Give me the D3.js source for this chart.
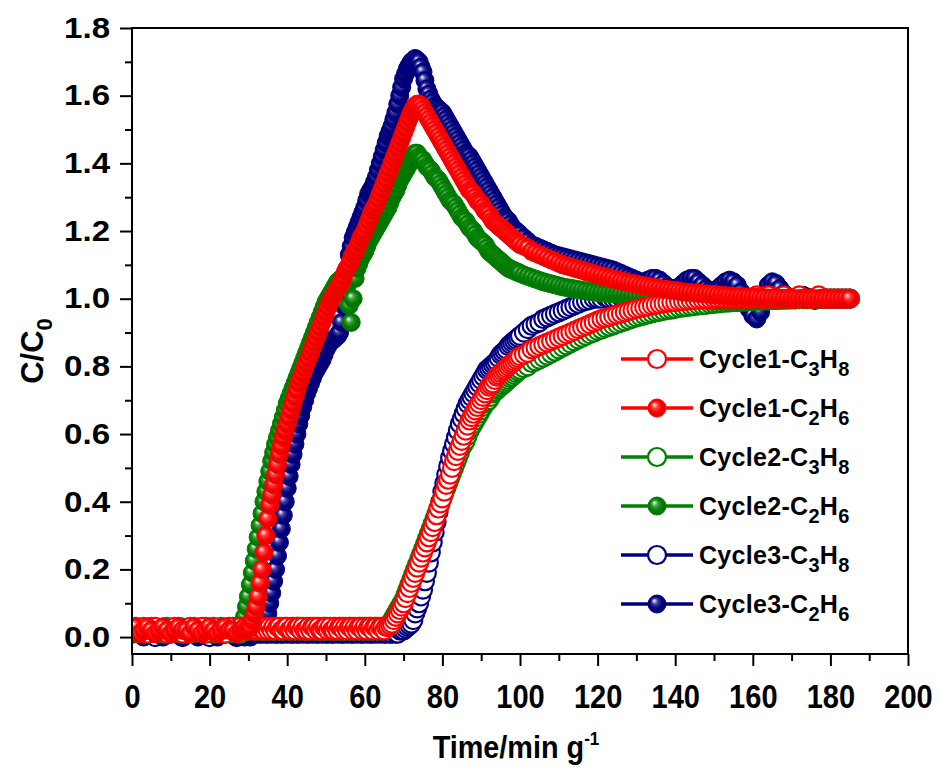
<!DOCTYPE html>
<html><head><meta charset="utf-8">
<script src="https://cdn.jsdelivr.net/npm/d3@7"></script>
<style>
body{margin:0;background:#fff}
svg{display:block}
text{font-family:"Liberation Sans",Arial,sans-serif;font-weight:bold;fill:#000}
</style>
</head><body>
<svg id="chart" width="941" height="771"></svg>
<script>
// ---------- data (time in min g^-1, C/C0); denser sampling during breakthrough ----------
const TIME=[0,1,2,3,4,5,6,7,8,9,10,11,12,13,14,15,16,17,18,19,20,21,22,23,24,25,26,27,
28,28.5,29,29.5,30,30.5,31,31.5,32,32.5,
33,33.5,34,34.5,35,35.5,36,36.5,37,37.5,
38,38.5,39,39.5,40,40.5,41,41.5,42,42.5,
43,43.5,44,44.5,45,45.5,46,46.5,47,47.5,
48,48.5,49,49.5,50,50.5,51,51.5,52,52.5,
53,53.5,54,54.5,55,55.5,56,56.5,57,57.5,
58,58.5,59,59.5,60,60.5,61,61.5,62,62.5,
63,63.5,64,64.5,65,65.5,66,66.5,67,67.5,
68,68.5,69,69.5,70,70.5,71,71.5,72,72.5,
73,73.5,74,74.5,75,75.5,76,76.5,77,77.5,
78,78.5,79,79.5,80,80.5,81,81.5,82,82.5,
83,83.5,84,84.5,85,85.5,86,86.5,87,87.5,
88,88.5,89,89.5,90,90.5,91,91.5,92,92.5,
93,93.5,94,94.5,95,95.5,96,96.5,97,97.5,
98,98.5,99,99.5,
100,101,102,103,104,105,106,107,108,109,110,111,112,113,114,115,116,117,118,119,
120,121,122,123,124,125,126,127,128,129,130,131,132,133,134,135,136,137,138,139,
140,141,142,143,144,145,146,147,148,149,150,151,152,153,154,155,156,157,158,159,
160,161,162,163,164,165,166,167,168,169,170,171,172,173,174,175,176,177,178,179,
180,181,182,183,184,185];

const CYCLE1_C3H8=[0.03,0.02,0.02,0.03,0.01,0.02,0.03,0.02,0.02,0.01,0.02,0.03,0.02,0.01,0.02,0.03,0.02,0.02,0.03,0.01,0.02,0.03,0.02,0.02,0.01,0.03,0.02,0.02,
0.03,0.02,0.02,0.03,0.02,0.03,0.02,0.02,0.03,0.02,
0.03,0.02,0.02,0.03,0.02,0.03,0.02,0.03,0.02,0.03,
0.03,0.02,0.02,0.03,0.03,0.02,0.02,0.03,0.02,0.03,
0.03,0.02,0.03,0.02,0.02,0.03,0.02,0.03,0.03,0.02,
0.03,0.02,0.02,0.03,0.03,0.02,0.03,0.02,0.02,0.03,
0.02,0.03,0.03,0.02,0.03,0.02,0.03,0.03,0.02,0.03,
0.02,0.03,0.03,0.02,0.03,0.02,0.03,0.03,0.02,0.03,
0.03,0.02,0.03,0.03,0.02,0.03,0.03,0.035,0.04,0.05,
0.06,0.07,0.08,0.09,0.10,0.115,0.13,0.145,0.16,0.175,
0.19,0.205,0.22,0.235,0.25,0.265,0.28,0.295,0.31,0.325,
0.34,0.36,0.38,0.395,0.41,0.43,0.45,0.465,0.48,0.50,
0.52,0.535,0.55,0.565,0.58,0.595,0.61,0.625,0.64,0.65,
0.66,0.67,0.68,0.69,0.70,0.71,0.72,0.73,0.74,0.745,
0.75,0.76,0.77,0.775,0.78,0.785,0.79,0.795,0.80,0.805,
0.81,0.815,0.82,0.825,
0.83,0.835,0.84,0.85,0.855,0.86,0.865,0.87,0.875,0.88,
0.885,0.89,0.895,0.90,0.905,0.91,0.915,0.92,0.925,0.93,
0.935,0.94,0.943,0.946,0.95,0.953,0.956,0.96,0.963,0.966,
0.97,0.972,0.975,0.977,0.98,0.982,0.984,0.986,0.988,0.99,
0.99,0.992,0.993,0.994,0.995,0.996,0.997,0.998,0.998,0.999,
1,1,1,1,1,1,1,1,1,1,
1,1.01,1,1,1.01,1,1,1,1.01,1,
1,1,1.01,1,1,1,1,1.01,1,1,
1,1,1,1,1,1];

const CYCLE1_C2H6=[0.02,0.03,0.01,0.02,0.03,0.02,0.01,0.02,0.03,0.02,0.01,0.02,0.03,0.02,0.02,0.01,0.03,0.02,0.01,0.02,0.03,0.02,0.01,0.02,0.03,0.02,0.02,0.01,
0.02,0.02,0.03,0.02,0.03,0.03,0.05,0.07,0.09,0.12,
0.16,0.20,0.25,0.30,0.35,0.39,0.42,0.45,0.48,0.51,
0.54,0.565,0.59,0.61,0.63,0.65,0.67,0.69,0.71,0.73,
0.75,0.765,0.78,0.795,0.81,0.825,0.84,0.855,0.87,0.885,
0.90,0.915,0.93,0.945,0.96,0.975,0.99,1.00,1.01,1.02,
1.03,1.04,1.05,1.065,1.08,1.09,1.10,1.115,1.13,1.14,
1.15,1.165,1.18,1.19,1.20,1.215,1.23,1.245,1.26,1.27,
1.28,1.295,1.31,1.325,1.34,1.355,1.37,1.385,1.40,1.415,
1.43,1.445,1.46,1.475,1.49,1.505,1.52,1.535,1.55,1.56,
1.57,1.575,1.575,1.57,1.56,1.55,1.54,1.53,1.52,1.51,
1.50,1.49,1.48,1.47,1.46,1.45,1.44,1.43,1.42,1.41,
1.40,1.39,1.38,1.37,1.36,1.35,1.34,1.33,1.32,1.315,
1.31,1.30,1.29,1.285,1.28,1.27,1.26,1.255,1.25,1.24,
1.23,1.225,1.22,1.215,1.21,1.205,1.20,1.195,1.19,1.185,
1.18,1.175,1.17,1.165,
1.16,1.155,1.15,1.14,1.135,1.13,1.125,1.12,1.115,1.11,
1.105,1.10,1.097,1.094,1.09,1.087,1.084,1.08,1.077,1.074,
1.07,1.067,1.064,1.061,1.058,1.055,1.052,1.05,1.047,1.045,
1.043,1.04,1.038,1.036,1.034,1.032,1.03,1.028,1.027,1.025,
1.024,1.022,1.02,1.019,1.018,1.017,1.016,1.015,1.014,1.013,
1.012,1.011,1.01,1.009,1.008,1.007,1.006,1.006,1.005,1.005,
1.004,1.004,1.003,1.003,1.002,1.002,1.002,1.001,1.001,1.001,
1,1,1,1,1,1,1,1,1,1,
1,1,1,1,1,1];

const CYCLE2_C3H8=[0.02,0.03,0.02,0.01,0.02,0.03,0.02,0.02,0.01,0.03,0.02,0.02,0.03,0.02,0.01,0.02,0.03,0.02,0.02,0.03,0.02,0.01,0.02,0.03,0.02,0.02,0.03,0.02,
0.01,0.02,0.03,0.02,0.02,0.03,0.02,0.03,0.02,0.02,
0.03,0.02,0.02,0.03,0.02,0.02,0.03,0.02,0.03,0.02,
0.02,0.03,0.02,0.03,0.02,0.02,0.03,0.02,0.02,0.03,
0.02,0.03,0.02,0.02,0.03,0.02,0.03,0.02,0.02,0.03,
0.02,0.03,0.02,0.03,0.02,0.02,0.03,0.02,0.03,0.02,
0.02,0.03,0.02,0.03,0.02,0.02,0.03,0.02,0.03,0.02,
0.02,0.03,0.02,0.03,0.02,0.03,0.02,0.03,0.02,0.03,
0.02,0.03,0.02,0.03,0.03,0.03,0.03,0.04,0.05,0.06,
0.07,0.08,0.09,0.10,0.11,0.125,0.14,0.155,0.17,0.185,
0.20,0.215,0.23,0.245,0.26,0.275,0.29,0.305,0.32,0.335,
0.35,0.365,0.38,0.395,0.41,0.425,0.44,0.455,0.47,0.485,
0.50,0.515,0.53,0.545,0.56,0.57,0.58,0.595,0.61,0.62,
0.63,0.64,0.65,0.66,0.67,0.68,0.69,0.695,0.70,0.71,
0.72,0.725,0.73,0.735,0.74,0.745,0.75,0.755,0.76,0.765,
0.77,0.775,0.78,0.785,
0.79,0.795,0.80,0.81,0.815,0.82,0.826,0.832,0.838,0.844,
0.85,0.856,0.862,0.868,0.874,0.88,0.885,0.89,0.895,0.90,
0.905,0.909,0.913,0.917,0.921,0.925,0.929,0.933,0.937,0.941,
0.945,0.948,0.951,0.954,0.957,0.96,0.962,0.964,0.966,0.968,
0.97,0.972,0.974,0.975,0.977,0.978,0.98,0.981,0.982,0.984,
0.985,0.986,0.987,0.988,0.989,0.99,0.99,0.991,0.992,0.993,
0.993,0.994,0.994,0.995,0.995,0.996,0.996,0.997,0.997,0.998,
0.998,0.998,0.999,0.999,0.999,1,1,1,1,1,
1,1,1,1,1,1];

const CYCLE2_C2H6=[0.02,0.01,0.02,0.03,0.02,0.01,0.02,0.02,0.03,0.01,0.02,0.02,0.01,0.03,0.02,0.02,0.01,0.02,0.03,0.02,0.02,0.01,0.02,0.03,0.02,0.02,0.01,0.02,
0.03,0.04,0.06,0.09,0.12,0.155,0.19,0.225,0.26,0.295,
0.33,0.365,0.40,0.43,0.46,0.49,0.52,0.545,0.57,0.59,
0.61,0.63,0.65,0.67,0.69,0.705,0.72,0.735,0.75,0.765,
0.78,0.795,0.81,0.825,0.84,0.855,0.87,0.885,0.90,0.915,
0.93,0.945,0.96,0.975,0.99,1.00,1.01,1.02,1.03,1.04,
1.05,1.055,1.06,1.06,1.06,1.04,0.98,0.93,1.00,1.06,
1.09,1.105,1.12,1.13,1.14,1.155,1.17,1.18,1.19,1.20,
1.21,1.22,1.23,1.24,1.25,1.26,1.27,1.285,1.30,1.31,
1.32,1.335,1.35,1.36,1.37,1.38,1.39,1.40,1.41,1.42,
1.43,1.43,1.42,1.415,1.41,1.40,1.39,1.385,1.38,1.37,
1.36,1.355,1.35,1.34,1.33,1.32,1.31,1.30,1.29,1.285,
1.28,1.27,1.26,1.25,1.24,1.235,1.23,1.22,1.21,1.205,
1.20,1.19,1.18,1.175,1.17,1.165,1.16,1.15,1.14,1.135,
1.13,1.125,1.12,1.115,1.11,1.105,1.10,1.095,1.09,1.088,
1.085,1.083,1.08,1.078,
1.075,1.07,1.066,1.062,1.058,1.054,1.05,1.047,1.044,1.041,
1.038,1.035,1.033,1.031,1.029,1.027,1.025,1.023,1.021,1.02,
1.018,1.017,1.016,1.015,1.014,1.013,1.012,1.011,1.01,1.009,
1.008,1.007,1.006,1.005,1.004,1.003,1.002,1.001,1,1,
1,1,0.998,0.998,0.997,0.997,0.996,0.996,0.996,0.995,
0.995,0.995,0.995,0.995,0.995,0.995,0.995,0.995,0.995,0.995,
0.995,0.995,0.995,0.995,0.995,0.995,0.996,0.996,0.996,0.996,
0.997,0.997,0.997,0.997,0.998,0.998,0.998,0.998,0.999,0.999,
0.999,0.999,1,1,1,1];

const CYCLE3_C3H8=[0.01,0.02,0.01,0.01,0.02,0.01,0.00,0.01,0.02,0.01,0.01,0.02,0.01,0.00,0.01,0.02,0.01,0.01,0.02,0.01,0.00,0.01,0.02,0.01,0.01,0.02,0.01,0.00,
0.01,0.02,0.01,0.01,0.02,0.01,0.01,0.02,0.01,0.02,
0.01,0.01,0.02,0.01,0.01,0.02,0.01,0.02,0.01,0.01,
0.02,0.01,0.01,0.02,0.01,0.02,0.01,0.01,0.02,0.01,
0.01,0.02,0.01,0.02,0.01,0.01,0.02,0.01,0.02,0.01,
0.01,0.02,0.01,0.02,0.01,0.01,0.02,0.01,0.01,0.02,
0.01,0.02,0.01,0.01,0.02,0.01,0.02,0.01,0.01,0.02,
0.01,0.02,0.01,0.01,0.02,0.01,0.02,0.01,0.01,0.02,
0.01,0.02,0.01,0.02,0.01,0.01,0.02,0.01,0.01,0.02,
0.01,0.01,0.02,0.02,0.02,0.025,0.03,0.035,0.04,0.05,
0.07,0.085,0.10,0.12,0.14,0.165,0.19,0.22,0.25,0.28,
0.31,0.34,0.37,0.40,0.43,0.455,0.48,0.505,0.53,0.55,
0.57,0.59,0.61,0.63,0.645,0.66,0.675,0.69,0.70,0.71,
0.72,0.73,0.74,0.75,0.76,0.77,0.78,0.79,0.795,0.80,
0.805,0.81,0.815,0.825,0.835,0.84,0.845,0.85,0.86,0.865,
0.87,0.875,0.88,0.885,
0.89,0.90,0.91,0.92,0.925,0.93,0.94,0.945,0.95,0.955,
0.96,0.965,0.97,0.975,0.98,0.985,0.99,0.993,0.996,1.0,
1.0,1.0,1.005,1.0,1.0,1.0,1.005,1.0,1.0,1.0,
1.0,1.005,1.0,1.0,1.0,1.0,1.005,1.0,1.0,1.0,
1.0,1.0,1.0,1.005,1.0,1.0,1.0,1.0,1.0,1.0,
1.0,1.0,1.0,1.0,1.0,1.0,1.0,1.0,1.0,1.0,
1.0,1.0,1.0,1.0,1.0,1.0,1.0,1.0,1.0,1.0,
1.0,1.0,1.0,1.0,1.0,1.0,1.0,1.0,1.0,1.0,
1,1,1,1,1,1];

const CYCLE3_C2H6=[0.01,0.02,0.01,0.00,0.01,0.02,0.01,0.01,0.00,0.01,0.02,0.01,0.01,0.00,0.01,0.02,0.01,0.00,0.01,0.01,0.02,0.01,0.00,0.01,0.01,0.02,0.01,0.00,
0.01,0.01,0.00,0.01,0.01,0.00,0.01,0.01,0.01,0.02,
0.02,0.025,0.03,0.05,0.07,0.10,0.13,0.165,0.20,0.24,
0.28,0.32,0.36,0.40,0.44,0.475,0.51,0.54,0.57,0.60,
0.63,0.655,0.68,0.70,0.72,0.735,0.75,0.765,0.78,0.79,
0.80,0.81,0.82,0.835,0.85,0.86,0.87,0.875,0.88,0.885,
0.89,0.90,0.93,0.98,1.05,1.09,1.13,1.155,1.18,1.195,
1.21,1.225,1.24,1.255,1.27,1.29,1.31,1.32,1.33,1.345,
1.36,1.38,1.40,1.42,1.44,1.46,1.48,1.495,1.51,1.53,
1.55,1.575,1.60,1.625,1.65,1.665,1.68,1.69,1.70,1.705,
1.71,1.705,1.70,1.685,1.67,1.645,1.62,1.605,1.59,1.58,
1.57,1.565,1.56,1.555,1.55,1.54,1.53,1.52,1.51,1.50,
1.49,1.48,1.47,1.46,1.45,1.44,1.43,1.425,1.42,1.41,
1.40,1.39,1.38,1.37,1.36,1.35,1.34,1.33,1.32,1.31,
1.30,1.29,1.28,1.27,1.26,1.25,1.24,1.235,1.23,1.22,
1.21,1.205,1.20,1.195,
1.19,1.18,1.17,1.16,1.155,1.15,1.145,1.14,1.135,1.13,
1.127,1.124,1.121,1.118,1.115,1.112,1.109,1.106,1.103,1.10,
1.097,1.094,1.091,1.088,1.085,1.08,1.075,1.07,1.065,1.06,
1.055,1.05,1.05,1.055,1.06,1.06,1.055,1.045,1.035,1.03,
1.03,1.035,1.045,1.055,1.06,1.06,1.05,1.04,1.03,1.025,
1.025,1.03,1.04,1.05,1.055,1.05,1.04,1.02,1.00,0.97,
0.95,0.94,0.96,1.00,1.04,1.05,1.045,1.03,1.015,1.005,
1.0,1.0,1.005,1.01,1.005,1.0,0.995,1.0,1.0,1.0,
1,1,1,1,1,1];

const X_TICKS=[0,20,40,60,80,100,120,140,160,180,200];
const X_MINOR=[10,30,50,70,90,110,130,150,170,190];
const Y_TICKS=[0.0,0.2,0.4,0.6,0.8,1.0,1.2,1.4,1.6,1.8];
const Y_MINOR=[0.1,0.3,0.5,0.7,0.9,1.1,1.3,1.5,1.7];

// legend order
const SERIES=[
  {name:["Cycle1-C","3","H","8"], values:CYCLE1_C3H8, color:"#ff0000", filled:false},
  {name:["Cycle1-C","2","H","6"], values:CYCLE1_C2H6, color:"#ff0000", filled:true},
  {name:["Cycle2-C","3","H","8"], values:CYCLE2_C3H8, color:"#008000", filled:false},
  {name:["Cycle2-C","2","H","6"], values:CYCLE2_C2H6, color:"#008000", filled:true},
  {name:["Cycle3-C","3","H","8"], values:CYCLE3_C3H8, color:"#000080", filled:false},
  {name:["Cycle3-C","2","H","6"], values:CYCLE3_C2H6, color:"#000080", filled:true}
];
// drawing order: red on top
const DRAW_ORDER=[4,5,2,3,0,1];

// ---------- layout ----------
const L=132,R=908,T=28,B=654;
const svg=d3.select("#chart");
const x=d3.scaleLinear().domain([0,200]).range([L,R]);
const y=d3.scaleLinear().domain([-0.05,1.8]).range([B,T]);
const RAD=9;

const defs=svg.append("defs");
defs.append("clipPath").attr("id","plotclip").append("rect")
  .attr("x",L).attr("y",T).attr("width",R-L).attr("height",B-T);
function gradId(c){return "g"+c.replace("#","");}
[...new Set(SERIES.map(s=>s.color))].forEach(c=>{
  const g=defs.append("radialGradient").attr("id",gradId(c))
    .attr("cx","0.5").attr("cy","0.5").attr("r","0.55").attr("fx","0.33").attr("fy","0.3");
  g.append("stop").attr("offset","0").attr("stop-color","#ffffff");
  g.append("stop").attr("offset","0.3").attr("stop-color",d3.interpolateRgb(c,"#ffffff")(0.25));
  g.append("stop").attr("offset","0.6").attr("stop-color",c);
  g.append("stop").attr("offset","1").attr("stop-color",d3.color(c).darker(0.6).formatHex());
});

// ---------- markers ----------
const plot=svg.append("g").attr("clip-path","url(#plotclip)");
DRAW_ORDER.forEach(i=>{
  const s=SERIES[i];
  const pts=TIME.map((t,k)=>[t,s.values[k]]).filter(d=>d[1]!==undefined);
  plot.append("g").selectAll("circle").data(pts).join("circle")
    .attr("cx",d=>x(d[0])).attr("cy",d=>y(d[1])).attr("r",RAD)
    .attr("fill",s.filled?`url(#${gradId(s.color)})`:"#ffffff")
    .attr("stroke",s.color).attr("stroke-width",s.filled?1:2.2);
});

// ---------- axes ----------
const xAxis=svg.append("g").attr("transform",`translate(0,${B})`)
  .call(d3.axisBottom(x).tickValues(X_TICKS).tickSize(12).tickPadding(19).tickFormat(d3.format("d")));
svg.append("g").attr("transform",`translate(0,${B})`)
  .call(d3.axisBottom(x).tickValues(X_MINOR).tickSize(7).tickFormat(""));
const yAxis=svg.append("g").attr("transform",`translate(${L},0)`)
  .call(d3.axisLeft(y).tickValues(Y_TICKS).tickSize(12).tickPadding(10).tickFormat(d3.format(".1f")));
svg.append("g").attr("transform",`translate(${L},0)`)
  .call(d3.axisLeft(y).tickValues(Y_MINOR).tickSize(7).tickFormat(""));
svg.selectAll(".domain").remove();
svg.selectAll(".tick line").attr("stroke","#000").attr("stroke-width",2);
xAxis.selectAll("text").attr("font-size",33).attr("transform","scale(0.88,1)")
  .style("font-family","'Liberation Sans',Arial,sans-serif").style("font-weight","bold");
const YSX=1.14;
yAxis.selectAll("text").attr("font-size",29).attr("x",-22/YSX).attr("transform",`scale(${YSX},1)`)
  .style("font-family","'Liberation Sans',Arial,sans-serif").style("font-weight","bold");
svg.append("rect").attr("x",L).attr("y",T).attr("width",R-L).attr("height",B-T)
  .attr("fill","none").attr("stroke","#000").attr("stroke-width",2);

// ---------- axis titles ----------
const xt=svg.append("text").attr("transform",`translate(${(L+R)/2-4},758) scale(0.9,1)`)
  .attr("text-anchor","middle").attr("font-size",32);
xt.append("tspan").text("Time/min g");
xt.append("tspan").attr("dy",-13).attr("font-size",19).text("-1");

const yt=svg.append("text").attr("transform",`translate(43,${(T+B)/2+10}) rotate(-90)`)
  .attr("text-anchor","middle").attr("font-size",31);
yt.append("tspan").text("C/C");
yt.append("tspan").attr("dy",9).attr("font-size",22).text("0");

// ---------- legend ----------
const leg=svg.append("g");
SERIES.forEach((s,i)=>{
  const ly=359+i*49;
  const g=leg.append("g");
  g.append("line").attr("x1",621).attr("x2",693).attr("y1",ly).attr("y2",ly)
    .attr("stroke",s.color).attr("stroke-width",3.5);
  g.append("circle").attr("cx",657).attr("cy",ly).attr("r",RAD)
    .attr("fill",s.filled?`url(#${gradId(s.color)})`:"#ffffff")
    .attr("stroke",s.color).attr("stroke-width",s.filled?1:2.2);
  const t=g.append("text").attr("x",699).attr("y",ly+9).attr("font-size",25).attr("letter-spacing",0.3);
  t.append("tspan").text(s.name[0]);
  t.append("tspan").attr("dy",8).attr("font-size",20).text(s.name[1]);
  t.append("tspan").attr("dy",-8).text(s.name[2]);
  t.append("tspan").attr("dy",8).attr("font-size",20).text(s.name[3]);
});

// length sanity check
SERIES.forEach(s=>{ if(s.values.length!==TIME.length){
  svg.append("text").attr("x",10).attr("y",15+15*SERIES.indexOf(s)).attr("font-size",12).attr("fill","magenta")
    .text(s.name.join("")+" len "+s.values.length+" vs "+TIME.length);
}});
</script>
</body></html>
